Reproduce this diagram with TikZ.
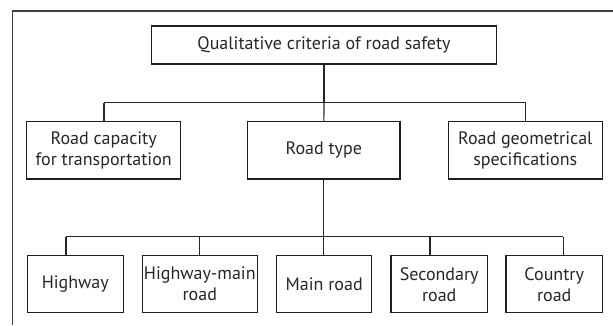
\documentclass[tikz,border=0pt]{standalone}
\usepackage{fontspec}
\setmainfont{PT Sans}
\begin{document}
\begin{tikzpicture}[x=1pt,y=-1pt,
  box/.style={draw=black!88,line width=1.2pt,inner sep=0pt,outer sep=0pt,
    align=center,font=\fontsize{18}{21}\selectfont,text=black!85},
  link/.style={draw=black!85,line width=1.2pt},
  frame/.style={draw=black!75,line width=1.6pt}]
\useasboundingbox (0,0) rectangle (613,325);
% open frame: left and top edges only
\draw[frame] (12.3,325) -- (12.3,11) -- (613,11);

% top level
\node[box,minimum width=344.6pt,minimum height=38pt] (top) at (324,45)
  {Qualitative criteria of road safety};

% second level
\node[box,minimum width=154pt,minimum height=57.3pt] (cap) at (103.7,150.35)
  {Road capacity\\for transportation};
\node[box,minimum width=152.3pt,minimum height=57.3pt] (type) at (323.85,150.35)
  {Road type};
\node[box,minimum width=154pt,minimum height=57.3pt] (geom) at (525.3,150.35)
  {Road geometrical\\specifications};

% third level
\node[box,minimum width=96pt,minimum height=57pt] (hw) at (75.3,284.2) {Highway};
\node[box,minimum width=115pt,minimum height=57pt] (hwm) at (199.8,284.2) {Highway-main\\road};
\node[box,minimum width=95pt,minimum height=57pt] (main) at (324.2,284.2) {Main road};
\node[box,minimum width=96.3pt,minimum height=57pt] (sec) at (439.2,284.2) {Secondary\\road};
\node[box,minimum width=96.3pt,minimum height=57pt] (ctry) at (554.2,284.2) {Country\\road};

% bus ends
\coordinate (t1) at (104,102.7);
\coordinate (t2) at (525.7,102.7);
\coordinate (b1) at (66,236.7);
\coordinate (b4) at (430,236.7);
\coordinate (b5) at (563.3,236.7);

% connectors to second level
\draw[link] (top.south) -- (top.south |- t1);
\draw[link] (t1) -- (t2);
\draw[link] (t1) -- (t1 |- cap.north);
\draw[link] (t2) -- (t2 |- geom.north);
\draw[link] (top.south |- t1) -- (type.north);

% connectors to third level
\draw[link] (type.south) -- (type.south |- b1);
\draw[link] (b1) -- (b5);
\draw[link] (b1) -- (b1 |- hw.north);
\draw[link] (hwm.north |- b1) -- (hwm.north);
\draw[link] (type.south |- b1) -- (type.south |- main.north);
\draw[link] (b4) -- (b4 |- sec.north);
\draw[link] (b5) -- (b5 |- ctry.north);
\end{tikzpicture}
\end{document}
